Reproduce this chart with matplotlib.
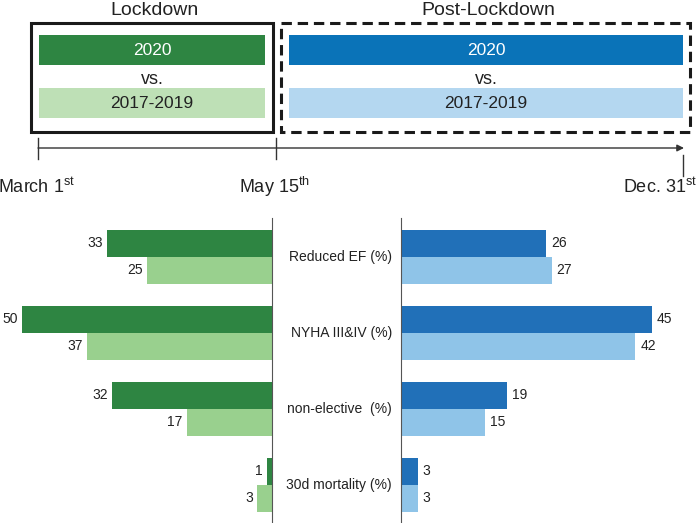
import numpy as np
import matplotlib
matplotlib.use('Agg')
import matplotlib.pyplot as plt
from matplotlib.patches import Rectangle

plt.rcParams['font.family'] = ['Liberation Sans', 'DejaVu Sans']
plt.rcParams['mathtext.fontset'] = 'custom'
plt.rcParams['mathtext.rm'] = 'Liberation Sans'

##############################################################################
# Data
categories = ['Reduced EF (%)', 'NYHA III&IV (%)', 'non-elective  (%)',
              '30d mortality (%)']
lock_2020 = [33, 50, 32, 1]
lock_ref = [25, 37, 17, 3]
post_2020 = [26, 45, 19, 3]
post_ref = [27, 42, 15, 3]

period_titles = ['Lockdown', 'Post-Lockdown']
legend_now = '2020'
legend_ref = '2017-2019'
date_labels = [r'March 1$^{\mathrm{st}}$', r'May 15$^{\mathrm{th}}$',
               r'Dec. 31$^{\mathrm{st}}$']

# colours
green_dark = '#2e8542'
green_light = '#99d08e'
green_head = '#bee0b6'
blue_dark = '#2170b8'
blue_light = '#8fc4e8'
blue_head = '#0a73b8'
blue_head_l = '#b4d7f0'
txt = '#222222'

W, H = 698, 523
fig = plt.figure(figsize=(W / 100, H / 100), dpi=100)


def px_axes(x0, y0, x1, y1, **kw):
    # axes placed from pixel box (top-left origin)
    return fig.add_axes([x0 / W, 1 - y1 / H, (x1 - x0) / W, (y1 - y0) / H], **kw)


##############################################################################
# Header / timeline drawn in pixel coordinates
top = px_axes(0, 0, W, H)
top.set_xlim(0, W)
top.set_ylim(H, 0)
top.axis('off')

# lockdown box (solid) and post-lockdown box (dashed)
top.add_patch(Rectangle((31, 23), 242, 109, fill=False, ec='#1a1a1a', lw=2.2))
top.add_patch(Rectangle((281, 23), 409, 109, fill=False, ec='#1a1a1a', lw=2.2,
                        ls=(0, (3.4, 1.9))))

for (x0, x1), title, c_now, c_ref in [((39, 265), period_titles[0], green_dark, green_head),
                                       ((289, 683), period_titles[1], blue_head, blue_head_l)]:
    xc = (x0 + x1) / 2
    top.add_patch(Rectangle((x0, 35), x1 - x0, 30, color=c_now, lw=0))
    top.add_patch(Rectangle((x0, 88), x1 - x0, 30, color=c_ref, lw=0))
    top.text(xc, 50.5, legend_now, ha='center', va='center', color='white', fontsize=12.5)
    top.text(xc, 103.5, legend_ref, ha='center', va='center', color=txt, fontsize=12.5)
    top.text(xc, 79, 'vs.', ha='center', va='center', color=txt, fontsize=13)
    top.text(xc + 2, 15, title, ha='center', va='baseline', color=txt, fontsize=14)

# timeline
top.annotate('', xy=(684, 148), xytext=(38, 148),
             arrowprops=dict(arrowstyle='-|>', color='#333333', lw=1,
                             mutation_scale=10, shrinkA=0, shrinkB=0))
top.plot([38, 38], [138, 159], color='#333333', lw=1)
top.plot([276, 276], [138, 159], color='#333333', lw=1)
top.plot([683, 683], [155, 176], color='#333333', lw=1)
top.text(37, 187, date_labels[0], ha='center', va='center', color=txt, fontsize=13)
top.text(274, 187, date_labels[1], ha='center', va='center', color=txt, fontsize=13)
top.text(697, 187, date_labels[2], ha='right', va='center', color=txt, fontsize=13)

##############################################################################
# Bar panels
y = np.arange(len(categories))
h = 27 / 76

ax_l = px_axes(0, 218, 272, H)
ax_r = px_axes(401, 218, W, H)

ax_l.barh(y - h / 2, lock_2020, height=h, color=green_dark)
ax_l.barh(y + h / 2, lock_ref, height=h, color=green_light)
ax_r.barh(y - h / 2, post_2020, height=h, color=blue_dark)
ax_r.barh(y + h / 2, post_ref, height=h, color=blue_light)

ax_l.set_xlim(272 / 5.0, 0)
ax_r.set_xlim(0, 297 / 5.58)

for ax in (ax_l, ax_r):
    ax.set_ylim(3.5, -0.513)
    ax.set_xticks([])
    ax.set_yticks([])
    for s in ax.spines.values():
        s.set_visible(False)
ax_l.spines['right'].set_visible(True)
ax_r.spines['left'].set_visible(True)
ax_l.spines['right'].set_color('#555555')
ax_r.spines['left'].set_color('#555555')

for i in range(len(categories)):
    for val, yy in [(lock_2020[i], y[i] - h / 2), (lock_ref[i], y[i] + h / 2)]:
        ax_l.annotate(str(val), xy=(val, yy), xytext=(-3, 0), textcoords='offset points',
                      ha='right', va='center', fontsize=10, color=txt)
    for val, yy in [(post_2020[i], y[i] - h / 2), (post_ref[i], y[i] + h / 2)]:
        ax_r.annotate(str(val), xy=(val, yy), xytext=(3.5, 0), textcoords='offset points',
                      ha='left', va='center', fontsize=10, color=txt)
    ax_r.annotate(categories[i], xy=(0, y[i]), xytext=(-6.5, 0), textcoords='offset points',
                  ha='right', va='center', fontsize=10, color=txt, annotation_clip=False)

fig.savefig('out.png', dpi=100)
